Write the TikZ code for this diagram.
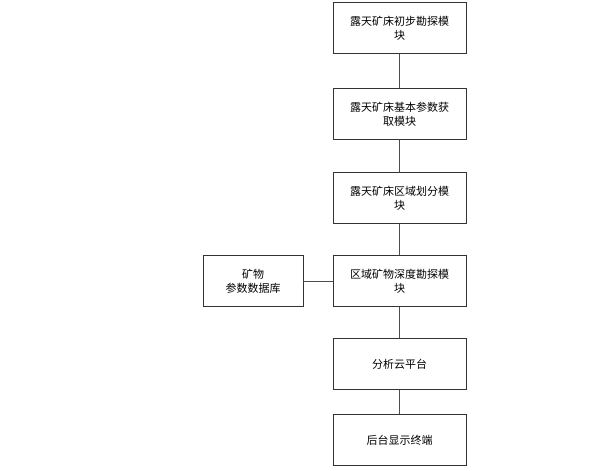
\documentclass[tikz,border=0pt]{standalone}
\usepackage{fontspec}
\newfontfamily\cjk{Noto Sans CJK SC}
\begin{document}
\begin{tikzpicture}[x=1pt,y=-1pt,
  box/.style={draw=black!80,line width=0.8pt,minimum width=133pt,minimum height=51pt,align=center,font=\cjk\fontsize{11}{14}\selectfont,text width=120pt},
  sbox/.style={box,minimum width=100pt,text width=90pt},
  conn/.style={draw=black!70,line width=0.7pt}]
\useasboundingbox (0,0) rectangle (600,471);
\node[box] (a) at (399.5,28) {露天矿床初步勘探模\\块};
\node[box] (b) at (399.5,114) {露天矿床基本参数获\\取模块};
\node[box] (c) at (399.5,198) {露天矿床区域划分模\\块};
\node[box] (d) at (399.5,281) {区域矿物深度勘探模\\块};
\node[box] (e) at (399.5,364) {分析云平台};
\node[box] (f) at (399.5,440) {后台显示终端};
\node[sbox] (g) at (253,281) {矿物\\参数数据库};
\draw[conn] (a) -- (b);
\draw[conn] (b) -- (c);
\draw[conn] (c) -- (d);
\draw[conn] (d) -- (e);
\draw[conn] (e) -- (f);
\draw[conn] (g) -- (d);
\end{tikzpicture}
\end{document}
